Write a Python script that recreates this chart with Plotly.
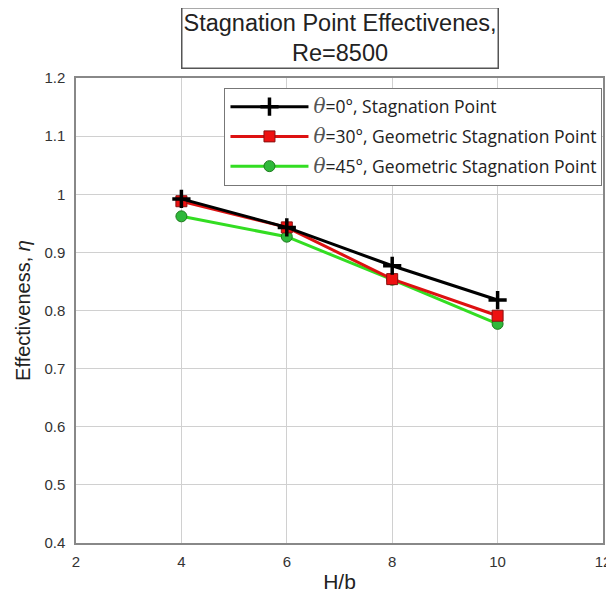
import plotly.graph_objects as go

hb = [4, 6, 8, 10]
eta_0 = [0.992, 0.943, 0.877, 0.818]
eta_30 = [0.988, 0.943, 0.854, 0.791]
eta_45 = [0.962, 0.927, 0.853, 0.777]

x_ticks = [2, 4, 6, 8, 10, 12]
y_ticks = [0.4, 0.5, 0.6, 0.7, 0.8, 0.9, 1.0, 1.1, 1.2]
y_tick_text = ["0.4", "0.5", "0.6", "0.7", "0.8", "0.9", "1", "1.1", "1.2"]

serif = "font-family:'DejaVu Serif';font-style:italic;font-size:20px;fill:#555555"
names = [
    f"<span style=\"{serif}\">θ</span>=0°, Stagnation Point",
    f"<span style=\"{serif}\">θ</span>=30°, Geometric Stagnation Point",
    f"<span style=\"{serif}\">θ</span>=45°, Geometric Stagnation Point",
]

fig = go.Figure()
fig.add_trace(go.Scatter(
    x=hb, y=eta_45, name=names[2], mode="lines+markers", legendgroup="c", legendrank=3,
    line=dict(color="#33dd22", width=3),
    marker=dict(symbol="circle", size=11, color="#2fb83a", line=dict(color="#1d7a1d", width=1)),
))
fig.add_trace(go.Scatter(
    x=hb, y=eta_30, name=names[1], mode="lines+markers", legendgroup="b", legendrank=2,
    line=dict(color="#dd1111", width=3),
    marker=dict(symbol="square", size=11, color="#ee1111", line=dict(color="#881111", width=1)),
))
fig.add_trace(go.Scatter(
    x=hb, y=eta_0, name=names[0], mode="lines+markers", legendgroup="a", legendrank=1,
    line=dict(color="black", width=3),
    marker=dict(symbol="cross-thin", size=13, color="black", line=dict(color="black", width=3.5)),
))

axis_common = dict(
    showgrid=True, gridcolor="#d0d0d0", gridwidth=1,
    showline=True, linecolor="#888888", linewidth=1.5, mirror=True,
    ticks="", zeroline=False, automargin=False,
    tickfont=dict(family="Liberation Sans, Arial", size=15, color="#333333"),
)

fig.update_layout(
    width=606, height=585,
    margin=dict(l=68, r=11, t=70, b=50),
    paper_bgcolor="white", plot_bgcolor="white",
    showlegend=True,
    legend=dict(
        x=0.999, y=0.979, xanchor="right", yanchor="top",
        bgcolor="white", bordercolor="#777777", borderwidth=1,
        font=dict(family="Open Sans, Noto Sans", size=17.5, color="#222222"),
        itemwidth=78, traceorder="grouped", tracegroupgap=4,
    ),
    xaxis=dict(range=[2, 12], tickvals=x_ticks, ticklabelstandoff=4, **axis_common,
               title=dict(text="H/b", font=dict(family="Liberation Sans, Arial", size=21, color="#222222"), standoff=12)),
    yaxis=dict(range=[0.4, 1.2], tickvals=y_ticks, ticktext=y_tick_text, ticklabelstandoff=6, **axis_common,
               title=dict(text="Effectiveness, <i>η</i>",
                          font=dict(family="Liberation Sans, Arial", size=20, color="#222222"), standoff=8)),
    annotations=[dict(
        text="Stagnation Point Effectivenes,<br>Re=8500",
        xref="paper", yref="paper", x=0.5, y=1.0, yshift=9,
        xanchor="center", yanchor="bottom", showarrow=False,
        font=dict(family="Liberation Sans, Arial", size=23.5, color="#222222"),
        bordercolor="#555555", borderwidth=1.5, borderpad=1, bgcolor="white",
    )],
)

fig.write_html("out.html")
